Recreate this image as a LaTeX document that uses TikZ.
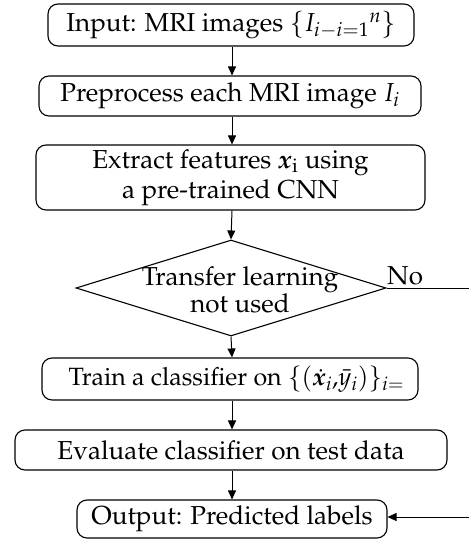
\documentclass[tikz,border=0pt]{standalone}
\usepackage[T1]{fontenc}
\usepackage{mathpazo}
\usepackage{amsmath,bm}
\usetikzlibrary{shapes.geometric,arrows.meta}
\begin{document}
\begin{tikzpicture}[x=1pt,y=-1pt,
  box/.style={draw,rounded corners=10pt,line width=1.1pt,inner sep=0pt,font=\fontsize{26}{30}\selectfont,align=center},
  arr/.style={-{Triangle[length=9pt,width=8pt]},line width=1pt},
  lbl/.style={font=\fontsize{26}{27}\selectfont,align=center,inner sep=0pt}]
\useasboundingbox (0,0) rectangle (468,540);
\node[box,minimum width=366pt,minimum height=42pt] (b1) at (231,25) {Input: MRI images $\{I_{i-i=1}{}^n\}$};
\node[box,minimum width=382pt,minimum height=40pt] (b2) at (230,96) {Preprocess each MRI image $I_i$};
\node[box,minimum width=389pt,minimum height=65pt] (b3) at (230.5,177.5) {Extract features $\bm{x}_{\mathrm{i}}$ using\\a pre-trained CNN};
\node[draw,diamond,line width=1.1pt,minimum width=310pt,minimum height=96pt,inner sep=0pt] (d) at (231,288) {};
\node[lbl] (dt) at (240,290) {Transfer learning\\not used};
\node[lbl,anchor=base west] (no) at (387,284) {No};
\node[box,minimum width=376pt,minimum height=42pt,font=\fontsize{25}{30}\selectfont] (b4) at (230,379) {\hspace{14pt}Train a classifier on $\{(\dot{\bm{x}}_i,\!\bar{y}_i)\}_{i=}$\hspace{1pt}};
\node[box,minimum width=432pt,minimum height=40pt] (b5) at (231,450) {Evaluate classifier on test data};
\node[box,minimum width=310pt,minimum height=38pt] (b6) at (232,519) {Output: Predicted labels};
\coordinate (r1) at (490,288);
\coordinate (r2) at (490,517);
\draw[arr] (b1.south -| 232,0) -- (b2.north -| 232,0);
\draw[arr] (b2.south -| 232,0) -- (b3.north -| 232,0);
\draw[arr] (b3.south -| 232,0) -- (d.north);
\draw[arr] (d.south) -- (b4.north -| 232,0);
\draw[arr] (b4.south -| 232,0) -- (b5.north -| 232,0);
\draw[arr] (b5.south -| 232,0) -- (b6.north -| 232,0);
\draw[arr] (d.east) -- (r1) -- (r2) -- (b6.east |- r2);
\end{tikzpicture}
\end{document}
